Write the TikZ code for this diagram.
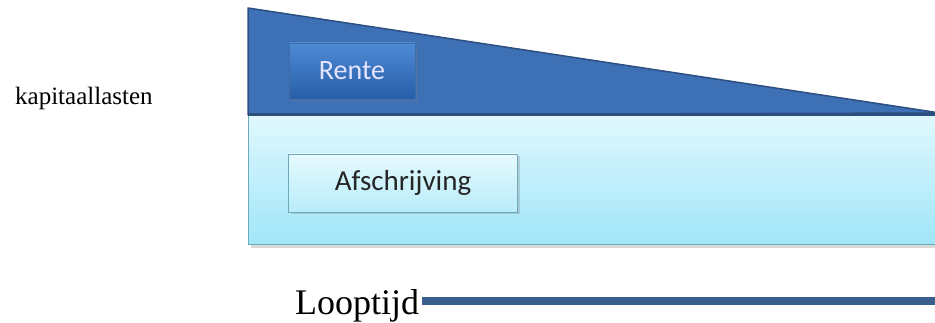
\documentclass[tikz,border=0pt]{standalone}
\usepackage{fontspec}
\setmainfont{Liberation Serif}
\newfontfamily\calibri{Carlito}
\usetikzlibrary{shadows}

\definecolor{donker}{RGB}{62,112,182}
\definecolor{donkerrand}{RGB}{44,79,128}
\definecolor{knopboven}{RGB}{78,138,212}
\definecolor{knoponder}{RGB}{40,94,168}
\definecolor{lichtboven}{RGB}{224,248,254}
\definecolor{lichtonder}{RGB}{160,230,248}
\definecolor{lichtrand}{RGB}{110,170,185}
\definecolor{lijnblauw}{RGB}{58,95,143}

\begin{document}
\begin{tikzpicture}
    [x=1pt,y=-1pt,
     every node/.style={inner sep=0pt},
     rentebox/.style={draw=knopboven!80!black,top color=knopboven,bottom color=knoponder,
       minimum width=126,minimum height=56,drop shadow={opacity=.4},
       text=white!90!blue,font=\calibri\fontsize{28}{30}\selectfont},
     afsbox/.style={draw=lichtrand,top color=lichtboven!80!white,bottom color=lichtonder!75!white,
       minimum width=229,minimum height=58,drop shadow={opacity=.3},
       text=black!85,font=\calibri\fontsize{29}{31}\selectfont}]
    \useasboundingbox (0,0) rectangle (935,323);
    % onderste vlak en driehoek
    \fill[black!30,opacity=.5] (251,117) rectangle (935,248);
    \fill[top color=lichtboven,bottom color=lichtonder,draw=lichtrand,line width=1]
      (248,115) rectangle (940,245);
    \fill[donker,draw=donkerrand,line width=1.5,line join=round]
      (248,115) -- (248,8) -- (940,113) -- cycle;
    \draw[donkerrand,line width=3] (248,115) -- (940,115);
    % teksten
    \node[anchor=base west,font=\fontsize{25}{27}\selectfont] (kap) at (15,105) {kapitaallasten};
    \node[rentebox] (rente) at (352,71) {Rente};
    \node[afsbox] (afs) at (403,183) {Afschrijving};
    \node[anchor=base west,font=\fontsize{36}{38}\selectfont] (loop) at (295,314) {Looptijd};
    \coordinate (eind) at (935,301);
    \draw[lijnblauw,line width=8] ([xshift=3]loop.east |- eind) -- (eind);
\end{tikzpicture}
\end{document}
